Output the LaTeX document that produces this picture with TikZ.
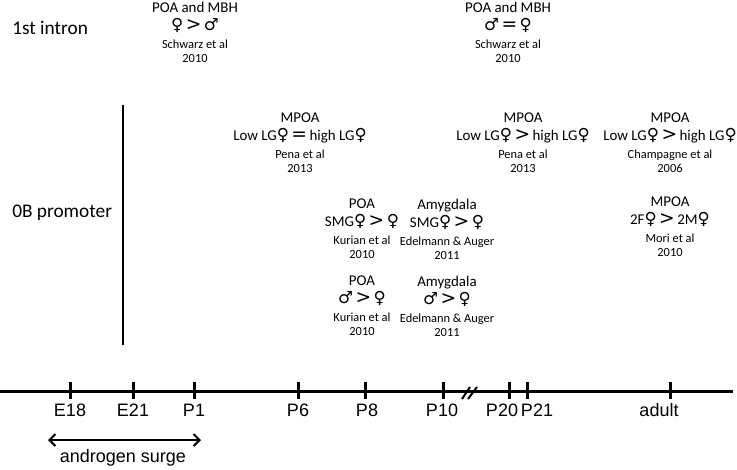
\documentclass[tikz,border=0pt]{standalone}
\usepackage{fontspec}
\setmainfont{Carlito}
\newfontfamily\axisfont{Liberation Sans}
\newfontfamily\symfont{DejaVu Sans}
\usetikzlibrary{arrows.meta}
\newcommand{\fsym}{{\symfont\fontsize{12.5}{12.5}\selectfont\char"2640}}
\newcommand{\msym}{{\symfont\fontsize{12.5}{12.5}\selectfont\char"2642}}
\newcommand{\gtsym}{\,{\symfont\fontsize{14}{14}\selectfont >}\,}
\newcommand{\eqsym}{\,{\symfont\fontsize{14}{14}\selectfont =}\,}
\newcommand{\refline}[1]{{\fontsize{9.3}{11}\selectfont #1}}
\tikzset{
finding/.style={
  align=center,
  inner sep=0pt,
  anchor=north,
  font=\fontsize{11.2}{13.5}\selectfont
  },
region/.style={anchor=west, inner sep=0pt, font=\fontsize{14.5}{16}\selectfont},
stage/.style={inner sep=0pt, font=\axisfont\fontsize{13.5}{15}\selectfont},
axis/.style={line width=2.25pt},
tick/.style={line width=2.25pt},
line/.style={{Straight Barb[length=4.5pt,width=9pt]}-{Straight Barb[length=4.5pt,width=9pt]}, line width=1.5pt}
}
\begin{document}
\begin{tikzpicture}[x=0.75pt, y=-0.75pt]
\useasboundingbox (0,0) rectangle (737,469);

% row labels
\node[region]	(intron)		at (12,28)		{1st intron};
\node[region]	(promoter)	at (12,213)		{0B promoter};
\draw[line width=1.5pt] (123,105) -- (123,345);

% 1st intron
\node[finding]	(schwarzA)	at (195,1.5)		{POA and MBH\\ \fsym\gtsym\msym\\ \refline{Schwarz et al}\\[-3pt] \refline{2010}};
\node[finding]	(schwarzB)	at (508,1.5)		{POA and MBH\\ \msym\eqsym\fsym\\ \refline{Schwarz et al}\\[-3pt] \refline{2010}};

% 0B promoter
\node[finding]	(penaA)		at (300,112.5)	{MPOA\\ Low LG\fsym\eqsym high LG\fsym\\ \refline{Pena et al}\\[-3pt] \refline{2013}};
\node[finding]	(penaB)		at (523,112.5)	{MPOA\\ Low LG\fsym\gtsym high LG\fsym\\ \refline{Pena et al}\\[-3pt] \refline{2013}};
\node[finding]	(champagne)	at (670,112.5)	{MPOA\\ Low LG\fsym\gtsym high LG\fsym\\ \refline{Champagne et al}\\[-3pt] \refline{2006}};
\node[finding]	(mori)		at (670,196.5)	{MPOA\\ 2F\fsym\gtsym 2M\fsym\\ \refline{Mori et al}\\[-3pt] \refline{2010}};
\node[finding]	(kurianA)	at (362,198.5)	{POA\\ SMG\fsym\gtsym\fsym\\ \refline{Kurian et al}\\[-3pt] \refline{2010}};
\node[finding]	(edelmannA)	at (447,198.5)	{Amygdala\\ SMG\fsym\gtsym\fsym\\ \refline{Edelmann \& Auger}\\[-3pt] \refline{2011}};
\node[finding]	(kurianB)	at (362,275.5)	{POA\\ \msym\gtsym\fsym\\ \refline{Kurian et al}\\[-3pt] \refline{2010}};
\node[finding]	(edelmannB)	at (447,275.5)	{Amygdala\\ \msym\gtsym\fsym\\ \refline{Edelmann \& Auger}\\[-3pt] \refline{2011}};

% time axis
\coordinate (axisL) at (0,391);
\coordinate (axisR) at (733,391);
\draw[axis] (axisL) -- (axisR);
\foreach \x in {70, 133, 194, 298, 365, 443, 509, 527, 670}{
  \draw[tick] (\x,382) -- (\x,399);
}
\node[stage]	(e18)		at (70,410)		{E18};
\node[stage]	(e21)		at (133,410)		{E21};
\node[stage]	(p1)			at (194,410)		{P1};
\node[stage]	(p6)			at (298,410)		{P6};
\node[stage]	(p8)			at (367,410)		{P8};
\node[stage]	(p10)		at (442,410)		{P10};
\node[stage]	(p20)		at (502,410)		{P20};
\node[stage]	(p21)		at (537,410)		{P21};
\node[stage]	(adult)		at (659,410)		{adult};
% break
\draw[line width=1.5pt] (462,399) -- (470,387);
\draw[line width=1.5pt] (468,399) -- (477,387);

% androgen surge
\coordinate (surgeL) at (48,440);
\coordinate (surgeR) at (201,440);
\draw[line] (surgeL) -- (surgeR);
\node[stage]	(surge)		at (123,458)		{androgen surge};
\end{tikzpicture}
\end{document}
